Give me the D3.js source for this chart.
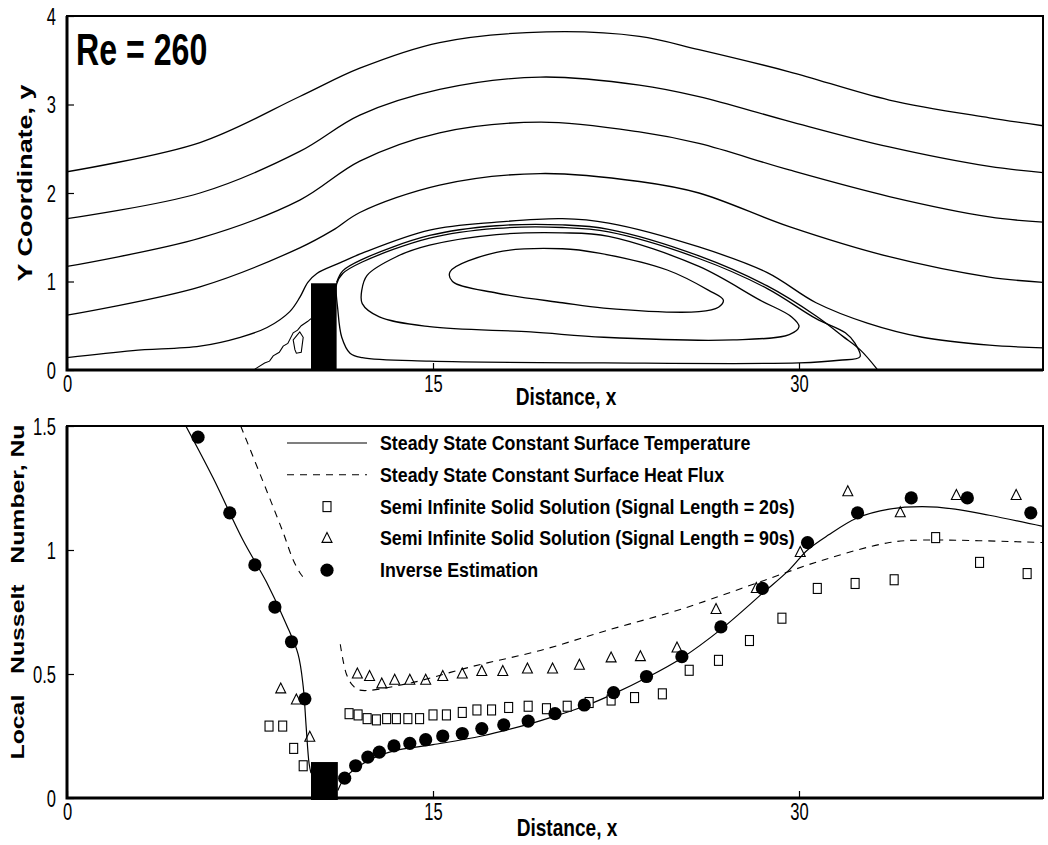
<!DOCTYPE html>
<html>
<head>
<meta charset="utf-8">
<script src="https://cdn.jsdelivr.net/npm/d3@7/dist/d3.min.js"></script>
<style>
  body { margin: 0; background: #fff; }
  text { font-family: "Liberation Sans", Arial, sans-serif; }
</style>
</head>
<body>
<div class="canvas"></div>
<script>
// ---------- top panel: streamlines (x, y) ----------
const streamL1 = [[0,2.24],[5.45,2.57],[9.54,3.09],[12,3.41],[15.27,3.70],[19.65,3.82],[23.46,3.77],[25.9,3.62],[29.6,3.37],[33.7,3.05],[37.8,2.85],[40,2.76]];
const streamL2 = [[0,1.71],[5.45,2.0],[9.54,2.47],[12,2.88],[15.27,3.17],[19.4,3.31],[23.46,3.22],[25.9,3.09],[29.6,2.81],[33.7,2.52],[37.8,2.30],[40,2.23]];
const streamL3 = [[0,1.17],[5.45,1.49],[9.54,1.92],[12,2.36],[15.27,2.68],[19.4,2.80],[23.46,2.69],[25.9,2.56],[29.6,2.26],[33.7,1.96],[37.8,1.73],[40,1.67]];
const streamL4 = [[0,0.62],[5.45,0.94],[9.54,1.38],[10.9,1.58],[12,1.78],[15.27,2.09],[19.4,2.22],[23.46,2.13],[25.9,2.0],[29.6,1.62],[33.7,1.28],[37.8,1.05],[40,0.99]];
const streamL5 = [[0,0.14],[2.7,0.22],[5.45,0.27],[7.1,0.37],[8.2,0.48],[9.13,0.66],[9.54,0.82],[9.87,0.99],[10.24,1.09],[11.18,1.21],[12.1,1.32],[14.86,1.58],[17.6,1.67],[20.3,1.71],[22.2,1.66],[25.9,1.39],[28.7,1.10],[30.7,0.76],[32.8,0.53],[35.05,0.37],[37.8,0.28],[40,0.25]];
const separatrix = [[11.05,0.99],[11.3,1.12],[12.1,1.25],[14.86,1.52],[17.6,1.63],[20.3,1.64],[22.2,1.59],[25.9,1.29],[28.7,0.95],[30.7,0.61],[31.8,0.38],[32.5,0.23],[33.2,0.01]];
const wallLoop = [[11.05,0.97],[11.3,1.09],[12.1,1.22],[14.86,1.49],[17.6,1.60],[20.3,1.61],[22.2,1.56],[25.9,1.26],[28.7,0.92],[30.7,0.58],[31.9,0.42],[32.3,0.3],[32.5,0.15],[31.65,0.11],[30,0.08],[22,0.08],[14.86,0.10],[12.1,0.14],[11.6,0.19],[11.26,0.37],[11.1,0.68]];
const middleLoop = [[12.08,0.9],[12.3,1.07],[13.5,1.28],[14.86,1.41],[17.6,1.53],[20.3,1.55],[22.2,1.51],[25.9,1.17],[28.4,0.79],[29.7,0.60],[30.0,0.49],[29.6,0.40],[27.3,0.34],[22,0.37],[19,0.43],[14.86,0.49],[12.8,0.6],[12.1,0.75]];
const innerLoop = [[15.7,1.11],[17.6,1.33],[20.3,1.37],[21.8,1.32],[24.6,1.13],[26.3,0.9],[26.9,0.79],[26.7,0.71],[25.9,0.66],[22,0.70],[20.3,0.76],[17.6,0.87],[15.8,1.0]];
const frontLine = [[7.7,0.01],[8.1,0.08],[8.3,0.10],[8.45,0.16],[8.7,0.20],[8.86,0.27],[9.05,0.30],[9.27,0.42],[9.45,0.45],[9.6,0.50],[9.87,0.55],[10,0.58]];
const frontLoop = [[9.34,0.23],[9.27,0.34],[9.54,0.43],[9.68,0.37],[9.6,0.2],[9.4,0.19]];

// obstacle (x from, x to, height) in each panel
const blockTop = [10, 11.05, 0.98];
const blockBottom = [10, 11.1, 0.145];

// ---------- bottom panel: local Nusselt number ----------
const cstBefore = [[4.87,1.5],[5.99,1.29],[7.21,1.04],[8.18,0.87],[8.99,0.70],[9.47,0.58],[9.68,0.45],[9.8,0.29],[9.92,0.14],[10.0,0.1]];
const cstAfter = [[11.1,0.03],[11.38,0.08],[12.33,0.15],[13.4,0.19],[15,0.215],[17,0.25],[19,0.30],[20,0.33],[21.2,0.37],[22.4,0.42],[23.75,0.485],[25.2,0.565],[26.8,0.68],[28.5,0.825],[29.6,0.92],[30.35,1.0],[31.2,1.06],[32.4,1.13],[33.7,1.165],[35.05,1.175],[36.4,1.165],[37.8,1.14],[40,1.095]];
const cshfBefore = [[7.12,1.5],[8.18,1.24],[8.86,1.07],[9.27,0.96],[9.6,0.9],[9.79,0.88]];
const cshfAfter = [[11.2,0.62],[11.45,0.50],[11.7,0.455],[12.0,0.435],[13.9,0.46],[16.6,0.53],[19.4,0.595],[22.1,0.675],[24.8,0.75],[25.9,0.785],[28.25,0.866],[31.0,0.96],[33.7,1.03],[35.05,1.04],[40,1.03]];

const semi20X = [8.28,8.84,9.29,9.68,11.56,11.93,12.3,12.68,13.1,13.5,13.97,14.45,15.0,15.55,16.2,16.8,17.4,18.1,18.9,19.65,20.5,21.4,22.3,23.26,24.4,25.5,26.7,27.97,29.3,30.75,32.3,33.9,35.6,37.4,39.35];
const semi20Nu = [0.29,0.29,0.20,0.13,0.34,0.335,0.32,0.315,0.32,0.32,0.32,0.32,0.335,0.335,0.345,0.355,0.355,0.365,0.37,0.36,0.37,0.385,0.395,0.405,0.42,0.515,0.555,0.635,0.725,0.845,0.865,0.88,1.05,0.95,0.905];

const semi90X = [8.76,9.4,9.95,11.9,12.4,12.9,13.43,14.05,14.7,15.4,16.2,17.0,17.86,18.87,19.9,21.0,22.3,23.5,25.0,26.6,28.25,30.05,32.0,34.15,36.45,38.9];
const semi90Nu = [0.44,0.395,0.245,0.50,0.49,0.46,0.475,0.475,0.475,0.49,0.50,0.51,0.51,0.52,0.52,0.535,0.565,0.57,0.605,0.76,0.845,0.99,1.235,1.15,1.22,1.22];

const inverseX = [5.37,6.67,7.7,8.52,9.2,9.75,11.38,11.83,12.33,12.8,13.4,14.05,14.7,15.4,16.2,17.0,17.9,18.9,20.0,21.2,22.4,23.75,25.2,26.8,28.5,30.35,32.4,34.6,36.9,39.5];
const inverseNu = [1.455,1.15,0.94,0.77,0.63,0.40,0.08,0.13,0.165,0.185,0.21,0.22,0.235,0.25,0.26,0.28,0.295,0.31,0.34,0.375,0.425,0.49,0.57,0.69,0.845,1.03,1.15,1.21,1.21,1.15];

const legendLabels = [
  "Steady State Constant Surface Temperature",
  "Steady State Constant Surface Heat Flux",
  "Semi Infinite Solid Solution (Signal Length = 20s)",
  "Semi Infinite Solid Solution (Signal Length = 90s)",
  "Inverse Estimation"
];

const xTicks = [0, 15, 30];
const yTicksTop = [0, 1, 2, 3, 4];
const yTicksBottom = [0, 0.5, 1, 1.5];

// ---------- layout ----------
const width = 1048, height = 845;
const left = 67, right = 1043;
const topPanel = { top: 16, bottom: 370 };
const botPanel = { top: 426, bottom: 798 };

const svg = d3.select(".canvas")
  .append("svg")
  .attr("width", width)
  .attr("height", height);

const x = d3.scaleLinear().domain([0, 40]).range([left, right]);
const yTop = d3.scaleLinear().domain([0, 4]).range([topPanel.bottom, topPanel.top]);
const yBot = d3.scaleLinear().domain([0, 1.5]).range([botPanel.bottom, botPanel.top]);

// no narrow font installed, so squeeze text horizontally
function narrowText(parent, px, py, size, sx, str, anchor) {
  return parent.append("text")
    .attr("transform", `translate(${px},${py}) scale(${sx},1)`)
    .attr("text-anchor", anchor || "start")
    .attr("font-size", size).attr("font-weight", "bold")
    .text(str);
}

const defs = svg.append("defs");
defs.append("clipPath").attr("id", "clipTop")
  .append("rect").attr("x", left).attr("y", topPanel.top)
  .attr("width", right - left).attr("height", topPanel.bottom - topPanel.top);
defs.append("clipPath").attr("id", "clipBot")
  .append("rect").attr("x", left).attr("y", botPanel.top)
  .attr("width", right - left).attr("height", botPanel.bottom - botPanel.top);

function drawAxes(yScale, panel, yTicks, yFmt) {
  const xAxis = d3.axisBottom(x).tickValues(xTicks).tickSize(-7).tickFormat(d3.format("d"));
  const yAxis = d3.axisLeft(yScale).tickValues(yTicks).tickSize(-7).tickFormat(yFmt);

  const gx = svg.append("g").attr("transform", `translate(0,${panel.bottom})`).call(xAxis);
  const gy = svg.append("g").attr("transform", `translate(${left},0)`).call(yAxis);

  [gx, gy].forEach(g => {
    g.select(".domain").remove();
    g.selectAll("line").attr("stroke", "#000").attr("stroke-width", 1.2);
    g.selectAll("text").attr("font-size", 23).attr("fill", "#000")
      .attr("font-family", "Liberation Sans, Arial, sans-serif");
  });
  gx.selectAll("text").attr("y", 0).attr("dy", 0)
    .attr("transform", "translate(0,22) scale(0.72,1)");
  gy.selectAll("text").attr("x", 0).attr("dy", "0.35em")
    .attr("transform", "translate(-11,0) scale(0.72,1)");

  svg.append("rect")
    .attr("x", left).attr("y", panel.top)
    .attr("width", right - left).attr("height", panel.bottom - panel.top)
    .attr("fill", "none").attr("stroke", "#000").attr("stroke-width", 2);
  svg.append("path")
    .attr("d", `M${left},${panel.top}V${panel.bottom}H${right}`)
    .attr("fill", "none").attr("stroke", "#000").attr("stroke-width", 3);
}

// ---------- top panel ----------
const topG = svg.append("g").attr("clip-path", "url(#clipTop)");

const smooth = d3.line().x(d => x(d[0])).y(d => yTop(d[1])).curve(d3.curveCatmullRom);
const smoothClosed = d3.line().x(d => x(d[0])).y(d => yTop(d[1])).curve(d3.curveCatmullRomClosed);
const jagged = d3.line().x(d => x(d[0])).y(d => yTop(d[1]));

[streamL1, streamL2, streamL3, streamL4, streamL5, separatrix].forEach(s => {
  topG.append("path").attr("d", smooth(s))
    .attr("fill", "none").attr("stroke", "#000").attr("stroke-width", 1.3);
});
[wallLoop, middleLoop, innerLoop].forEach(s => {
  topG.append("path").attr("d", smoothClosed(s))
    .attr("fill", "none").attr("stroke", "#000").attr("stroke-width", 1.3);
});
topG.append("path").attr("d", jagged(frontLine))
  .attr("fill", "none").attr("stroke", "#000").attr("stroke-width", 1.1);
topG.append("path").attr("d", jagged(frontLoop) + "Z")
  .attr("fill", "none").attr("stroke", "#000").attr("stroke-width", 1.1);

topG.append("rect")
  .attr("x", x(blockTop[0])).attr("y", yTop(blockTop[2]))
  .attr("width", x(blockTop[1]) - x(blockTop[0]))
  .attr("height", yTop(0) - yTop(blockTop[2]))
  .attr("fill", "#000");

drawAxes(yTop, topPanel, yTicksTop, d3.format("d"));

narrowText(svg, 76, 65, 44, 0.73, "Re = 260");
narrowText(svg, 566, 405, 23, 0.83, "Distance, x", "middle");

svg.append("text")
  .attr("transform", "translate(32,183) rotate(-90)")
  .attr("text-anchor", "middle")
  .attr("font-size", 20).attr("font-weight", "bold")
  .attr("textLength", 197).attr("lengthAdjust", "spacingAndGlyphs")
  .text("Y Coordinate, y");

// ---------- bottom panel ----------
const botG = svg.append("g").attr("clip-path", "url(#clipBot)");
const nuLine = d3.line().x(d => x(d[0])).y(d => yBot(d[1])).curve(d3.curveCatmullRom);

[cstBefore, cstAfter].forEach(s => {
  botG.append("path").attr("d", nuLine(s))
    .attr("fill", "none").attr("stroke", "#000").attr("stroke-width", 1.2);
});
[cshfBefore, cshfAfter].forEach(s => {
  botG.append("path").attr("d", nuLine(s))
    .attr("fill", "none").attr("stroke", "#000").attr("stroke-width", 1.1)
    .attr("stroke-dasharray", "7,6");
});

const triPath = "M0,-6L5,4L-5,4Z";

botG.selectAll(".sq")
  .data(semi20X.map((d, i) => [d, semi20Nu[i]]))
  .enter().append("rect")
    .attr("x", d => x(d[0]) - 4).attr("y", d => yBot(d[1]) - 5)
    .attr("width", 8).attr("height", 10)
    .attr("fill", "#fff").attr("stroke", "#000").attr("stroke-width", 1.1);

botG.selectAll(".tri")
  .data(semi90X.map((d, i) => [d, semi90Nu[i]]))
  .enter().append("path")
    .attr("d", triPath)
    .attr("transform", d => `translate(${x(d[0])},${yBot(d[1])})`)
    .attr("fill", "none").attr("stroke", "#000").attr("stroke-width", 1.1);

botG.selectAll(".dot")
  .data(inverseX.map((d, i) => [d, inverseNu[i]]))
  .enter().append("circle")
    .attr("cx", d => x(d[0])).attr("cy", d => yBot(d[1]))
    .attr("r", 6.6).attr("fill", "#000");

svg.append("rect")
  .attr("x", x(blockBottom[0])).attr("y", yBot(blockBottom[2]))
  .attr("width", x(blockBottom[1]) - x(blockBottom[0]))
  .attr("height", yBot(0) - yBot(blockBottom[2]) + 2)
  .attr("fill", "#000");

drawAxes(yBot, botPanel, yTicksBottom, d => String(d));

narrowText(svg, 567, 836, 23, 0.83, "Distance, x", "middle");

svg.append("text")
  .attr("transform", "translate(24,592) rotate(-90)")
  .attr("text-anchor", "middle")
  .attr("font-size", 18).attr("font-weight", "bold")
  .attr("textLength", 335).attr("lengthAdjust", "spacingAndGlyphs")
  .style("white-space", "pre")
  .text("Local   Nusselt   Number, Nu");

// legend
const legend = svg.append("g").attr("transform", "translate(0,443)");
const rowGap = 31.8;
legend.append("line").attr("x1", 287).attr("x2", 367).attr("y1", 0).attr("y2", 0)
  .attr("stroke", "#000").attr("stroke-width", 1.2);
legend.append("line").attr("x1", 287).attr("x2", 367).attr("y1", rowGap).attr("y2", rowGap)
  .attr("stroke", "#000").attr("stroke-width", 1.1).attr("stroke-dasharray", "7,6");
legend.append("rect").attr("x", 323).attr("y", rowGap * 2 - 5).attr("width", 8).attr("height", 10)
  .attr("fill", "#fff").attr("stroke", "#000").attr("stroke-width", 1.1);
legend.append("path").attr("d", triPath).attr("transform", `translate(327,${rowGap * 3})`)
  .attr("fill", "none").attr("stroke", "#000").attr("stroke-width", 1.1);
legend.append("circle").attr("cx", 327).attr("cy", rowGap * 4).attr("r", 6.6).attr("fill", "#000");

legendLabels.forEach((lab, i) => {
  narrowText(legend, 380, i * rowGap + 7, 20, 0.89, lab);
});
</script>
</body>
</html>
